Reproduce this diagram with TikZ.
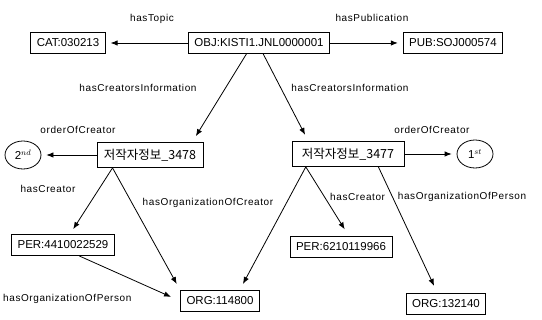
\documentclass[tikz,border=0pt]{standalone}
\usepackage{fontspec}
\setmainfont{Liberation Sans}
\newfontfamily\kor{Noto Sans CJK KR}
\usetikzlibrary{arrows.meta,shapes.geometric}
\newcommand{\lbl}{\fontsize{10}{12}\selectfont\addfontfeature{LetterSpace=6}}
\newcommand{\boxfont}{\fontsize{11.5}{13}\selectfont}
\newcommand{\korfont}{\kor\fontsize{12.5}{14}\selectfont}

\begin{document}
\begin{tikzpicture}
    [
    x=1pt, y=-1pt,
    res/.style = {draw, rectangle, line width=0.8pt, minimum height=21pt, inner xsep=6pt, font=\boxfont},
    info/.style = {res, minimum height=25pt, inner xsep=0pt, font=\korfont},
    ord/.style = {draw, ellipse, line width=0.8pt, minimum width=36pt, minimum height=28pt, inner sep=0pt, font=\boxfont},
    rel/.style = {font=\lbl, inner sep=1pt},
    arr/.style = {-{Latex[length=7pt,width=5.5pt]}, line width=0.8pt, shorten >=5pt}
    ]
\useasboundingbox (0,0) rectangle (542,320);

\node[res] (obj) at (259,43) {OBJ:KISTI1.JNL0000001};
\node[res] (cat) at (68,43) {CAT:030213};
\node[res] (pub) at (453,43) {PUB:SOJ000574};

\node[info, minimum width=106pt] (c3478) at (150,155) {저작자정보\_3478};
\node[info, minimum width=112pt] (c3477) at (348,154) {저작자정보\_3477};
\node[ord] (ord2) at (23,155) {2$^{nd}$};
\node[ord] (ord1) at (475,154) {1$^{st}$};

\node[res] (per1) at (63,245) {PER:4410022529};
\node[res] (per2) at (341,247) {PER:6210119966};
\node[res] (org1) at (220,301) {ORG:114800};
\node[res] (org2) at (446,304) {ORG:132140};

\draw[arr] (obj.west) -- (cat.east);
\draw[arr] (obj.east) -- (pub.west);
\draw[arr, shorten >=7pt] (obj.221) -- (c3478.17.5);
\draw[arr, shorten >=7pt] (obj.291) -- (c3477.162);

\draw[arr] (c3478.west) -- (ord2.east);
\draw[arr] (c3477.east) -- (ord1.west);

\draw[arr, shorten >=6pt] (c3478.199) -- (per1);
\draw[arr, shorten >=7pt] (c3478.199) -- (org1.north west);
\draw[arr, shorten >=7pt] (c3477.197) -- (org1.29);
\draw[arr, shorten >=8pt] (c3477.197) -- (per2.54);
\draw[arr, shorten >=8pt] (c3477.337) -- (org2.128);
\draw[arr, shorten >=10pt] (per1.326) -- (org1.west);

\node[rel] (lt) at (152,19) {hasTopic};
\node[rel] (lp) at (372,18) {hasPublication};
\node[rel] (lci1) at (138,88) {hasCreatorsInformation};
\node[rel] (lci2) at (350,88) {hasCreatorsInformation};
\node[rel] (lo2) at (78,130) {orderOfCreator};
\node[rel] (lo1) at (432,130) {orderOfCreator};
\node[rel] (lc1) at (48,189) {hasCreator};
\node[rel] (loc) at (208,203) {hasOrganizationOfCreator};
\node[rel, anchor=west] (lc2) at (329,197) {hasCreator};
\node[rel] (lop2) at (462,197) {hasOrganizationOfPerson};
\node[rel, anchor=west] (lop1) at (2,299) {hasOrganizationOfPerson};

\end{tikzpicture}
\end{document}
